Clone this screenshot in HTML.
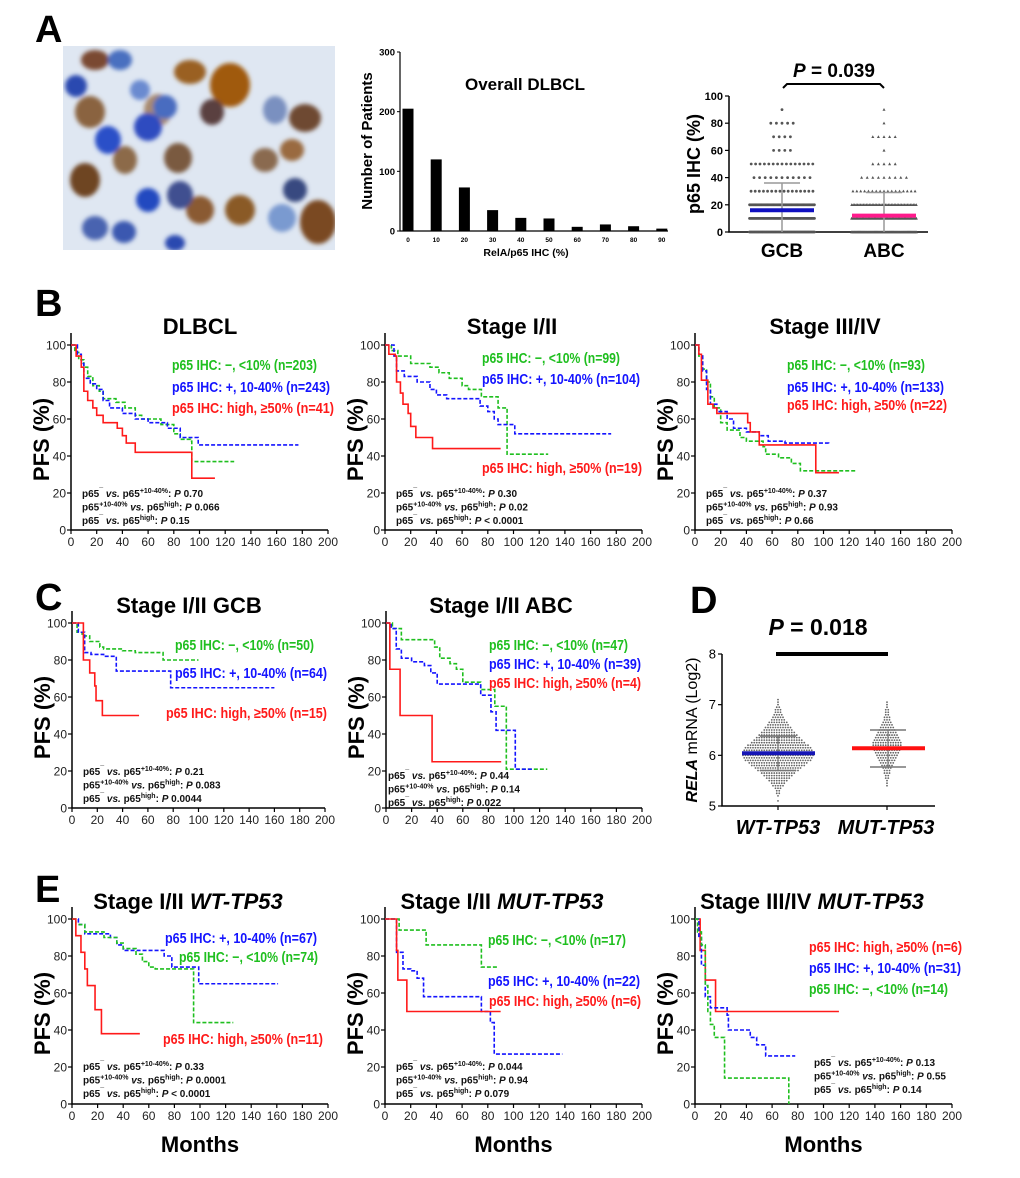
<!DOCTYPE html>
<html><head><meta charset="utf-8">
<style>
html,body{margin:0;padding:0;background:#fff;}
svg{display:block;font-family:"Liberation Sans",Arial,sans-serif;}
</style></head>
<body>
<svg id="fig" width="1020" height="1178" viewBox="0 0 1020 1178" xmlns="http://www.w3.org/2000/svg">
<defs>
<filter id="blur" x="-20%" y="-20%" width="140%" height="140%"><feGaussianBlur stdDeviation="2.2"/></filter>
<clipPath id="photoClip"><rect x="63" y="46" width="272" height="204"/></clipPath>
</defs>
<rect width="1020" height="1178" fill="#fff"/>
<g id="photo" clip-path="url(#photoClip)">
<rect x="63" y="46" width="272" height="204" fill="#dfe7f2"/>
<g filter="url(#blur)">
<ellipse cx="90" cy="112" rx="15" ry="16" fill="#8a6440"/>
<ellipse cx="85" cy="180" rx="15" ry="17" fill="#6e4422"/>
<ellipse cx="125" cy="160" rx="12" ry="14" fill="#8c6a4a"/>
<ellipse cx="158" cy="110" rx="14" ry="16" fill="#a88a70"/>
<ellipse cx="190" cy="72" rx="16" ry="12" fill="#9a6020"/>
<ellipse cx="230" cy="85" rx="20" ry="22" fill="#a05a10"/>
<ellipse cx="212" cy="112" rx="12" ry="13" fill="#5a4040"/>
<ellipse cx="178" cy="158" rx="14" ry="15" fill="#7a5a40"/>
<ellipse cx="200" cy="210" rx="14" ry="14" fill="#8a5a30"/>
<ellipse cx="240" cy="210" rx="15" ry="15" fill="#8a5a28"/>
<ellipse cx="305" cy="118" rx="16" ry="14" fill="#6e4a30"/>
<ellipse cx="318" cy="222" rx="18" ry="22" fill="#7a4a20"/>
<ellipse cx="292" cy="150" rx="12" ry="11" fill="#9a6a40"/>
<ellipse cx="95" cy="60" rx="14" ry="10" fill="#7a4a30"/>
<ellipse cx="265" cy="160" rx="13" ry="12" fill="#8a6a50"/>
<ellipse cx="76" cy="86" rx="11" ry="11" fill="#2c4ab0"/>
<ellipse cx="108" cy="140" rx="13" ry="14" fill="#2a50c8"/>
<ellipse cx="148" cy="127" rx="14" ry="14" fill="#2e4cc0"/>
<ellipse cx="165" cy="107" rx="12" ry="12" fill="#4a6cc0"/>
<ellipse cx="140" cy="90" rx="10" ry="10" fill="#6a8ad0"/>
<ellipse cx="148" cy="200" rx="12" ry="12" fill="#2448c0"/>
<ellipse cx="95" cy="228" rx="13" ry="12" fill="#4a64b0"/>
<ellipse cx="124" cy="232" rx="12" ry="11" fill="#3a58b0"/>
<ellipse cx="180" cy="195" rx="13" ry="14" fill="#3f5090"/>
<ellipse cx="295" cy="190" rx="12" ry="12" fill="#384880"/>
<ellipse cx="120" cy="60" rx="12" ry="10" fill="#4a70c0"/>
<ellipse cx="282" cy="218" rx="14" ry="14" fill="#7a9ad0"/>
<ellipse cx="275" cy="110" rx="12" ry="14" fill="#7a90c0"/>
<ellipse cx="175" cy="243" rx="10" ry="8" fill="#2a48b0"/>
</g></g>
<g id="root"></g>
</svg>
<script>
// ---------------- DATA ----------------
const kmXTicks = [0,20,40,60,80,100,120,140,160,180,200];
const kmYTicks = [0,20,40,60,80,100];

const b1Green = [[0,100],[3,96],[6,92],[10,88],[13,83],[17,78],[22,75],[25,71],[35,69],[42,66],[50,62],[55,60],[70,57],[80,52],[85,49],[93,48],[94,37],[127,37]];
const b1Blue  = [[0,100],[5,95],[8,90],[10,82],[15,79],[20,76],[25,70],[30,66],[40,63],[50,60],[60,58],[75,55],[85,50],[98,50],[99,46],[177,46]];
const b1Red   = [[0,100],[4,94],[8,88],[10,75],[13,70],[17,66],[20,62],[25,58],[35,58],[36,55],[40,51],[43,47],[50,42],[93,42],[94,28],[112,28]];

const b2Green = [[0,100],[5,97],[10,94],[20,90],[35,88],[42,85],[50,82],[60,78],[65,76],[75,72],[87,72],[88,66],[94,66],[95,41],[127,41]];
const b2Blue  = [[0,100],[7,94],[9,86],[15,83],[25,80],[35,76],[40,73],[48,71],[72,71],[74,67],[80,64],[85,60],[88,57],[100,57],[101,52],[176,52]];
const b2Red   = [[0,100],[3,95],[8,94],[9,80],[12,74],[14,68],[18,63],[20,56],[24,50],[36,50],[37,44],[90,44]];

const b3Green = [[0,100],[3,94],[6,87],[9,80],[12,72],[15,66],[20,58],[25,54],[35,50],[40,48],[50,48],[53,45],[55,41],[65,39],[75,36],[82,32],[126,32]];
const b3Blue  = [[0,100],[3,95],[6,86],[9,76],[12,68],[17,64],[25,60],[30,55],[40,53],[50,51],[57,48],[70,47],[104,46]];
const b3Red   = [[0,100],[3,95],[5,81],[10,68],[14,66],[17,63],[40,63],[41,58],[43,53],[50,46],[93,46],[94,31],[112,31]];

const c1Green = [[0,100],[4,95],[8,93],[14,90],[22,87],[25,86],[40,85],[50,84],[60,84],[72,80],[100,80]];
const c1Blue  = [[0,100],[5,95],[10,84],[15,83],[25,82],[35,74],[75,74],[78,65],[160,65]];
const c1Red   = [[0,100],[8,100],[9,80],[14,73],[18,66],[19,58],[24,50],[53,50]];

const c2Green = [[0,100],[5,97],[12,91],[32,91],[38,87],[42,81],[50,78],[55,75],[60,68],[70,68],[74,64],[85,55],[93,55],[94,21],[126,21]];
const c2Blue  = [[0,100],[4,97],[8,86],[12,81],[20,79],[30,77],[35,73],[40,67],[70,67],[74,61],[82,52],[86,42],[100,42],[101,21],[115,21]];
const c2Red   = [[0,100],[2,100],[3,75],[10,75],[11,50],[35,50],[36,25],[90,25]];

const e1Blue  = [[0,100],[5,97],[10,92],[30,90],[35,86],[40,83],[60,83],[72,80],[78,74],[98,74],[99,65],[161,65]];
const e1Green = [[0,100],[3,97],[10,93],[25,90],[35,87],[40,84],[50,81],[55,77],[60,74],[65,73],[94,73],[95,44],[126,44]];
const e1Red   = [[0,100],[2,100],[3,91],[7,82],[10,73],[12,64],[18,51],[23,38],[53,38]];

const e2Green = [[0,100],[10,100],[11,94],[31,94],[32,86],[73,86],[75,74],[88,74]];
const e2Blue  = [[0,100],[8,100],[9,82],[14,73],[20,72],[25,68],[30,58],[74,58],[75,50],[82,44],[85,27],[138,27]];
const e2Red   = [[0,100],[8,100],[9,83],[10,67],[17,50],[90,50]];

const e3Red   = [[0,100],[4,83],[8,67],[16,50],[112,50]];
const e3Blue  = [[0,100],[3,90],[5,75],[8,58],[12,52],[25,48],[26,40],[40,40],[43,36],[48,32],[55,26],[78,26]];
const e3Green = [[0,100],[2,93],[5,86],[8,64],[10,50],[12,43],[15,36],[20,36],[23,14],[72,14],[73,0]];

const histCategories = [0,10,20,30,40,50,60,70,80,90];
const histCounts = [205,120,73,35,22,21,7,11,8,4];
const histYTicks = [0,100,200,300];

const dotRowValues = [0,10,20,30,40,50,60,70,80,90];
const gcbRowCounts = [70,60,55,16,11,15,4,4,5,1];
const abcRowCounts = [70,55,45,17,9,5,1,5,1,1];
const dotYTicks = [0,20,40,60,80,100];
const gcbMean = 16, gcbSdTop = 36, abcMean = 12, abcSdTop = 29;

const relaYTicks = [5,6,7,8];
const wtBinStart = 5.10, mutBinStart = 5.40, relaBinStep = 0.05;
const wtBinCounts = [1,0,1,2,2,3,5,6,8,10,12,14,17,19,22,24,27,28,29,29,28,27,25,22,20,18,16,14,12,11,9,8,6,5,4,3,3,2,1,1,1];
const mutBinCounts = [1,1,1,2,2,3,3,4,5,6,7,8,9,10,11,12,12,12,11,10,9,8,7,6,5,4,3,3,2,2,2,1,1,1];
const wtMean = 6.04, wtSdHi = 6.38, wtSdLo = 5.70;
const mutMean = 6.14, mutSdHi = 6.50, mutSdLo = 5.77;

// ---------------- HELPERS ----------------
const NS = 'http://www.w3.org/2000/svg';
const root = document.getElementById('root');
function mk(tag, attrs, parent){
  const e = document.createElementNS(NS, tag);
  for (const k in attrs) e.setAttribute(k, attrs[k]);
  (parent || root).appendChild(e);
  return e;
}
function txt(x, y, s, size, opts, parent){
  opts = opts || {};
  const t = mk('text', {x:x, y:y, 'font-size':size, 'font-weight':opts.w || 'bold', fill:opts.fill || '#000', 'text-anchor':opts.anchor || 'start'}, parent);
  if (opts.len) { t.setAttribute('textLength', opts.len); t.setAttribute('lengthAdjust', 'spacingAndGlyphs'); }
  if (opts.rot) t.setAttribute('transform', 'rotate(-90 ' + x + ' ' + y + ')');
  if (opts.italic) t.setAttribute('font-style', 'italic');
  t.textContent = s;
  return t;
}

const GREEN = '#1fbf1f', BLUE = '#1414ff', RED = '#ff1a1a';

// ---------------- PANEL LETTERS ----------------
[['A',35,42],['B',35,316],['C',35,610],['D',690,613],['E',35,902]].forEach(function(p){
  const t = txt(p[1], p[2], p[0], 38);
  
  
});

// ---------------- KM CHARTS ----------------
function pLines(g, x, y, vals){
  const labels = [['\u00AF', '+10-40%'], ['+10-40%', 'high'], ['\u00AF', 'high']];
  vals.forEach(function(v, i){
    const t = mk('text', {x:x, y:y + i*13.5, 'font-size':10, 'font-weight':'bold', fill:'#111'}, g);
    
    
    const parts = [['p65',0,null],[labels[i][0],-4,7],[' ',4,null],['vs.',0,'i'],[' p65',0,null],[labels[i][1],-4,7],[': ',4,null],['P',0,'i'],[' ' + v,0,null]];
    parts.forEach(function(p){
      const s = mk('tspan', {dy:p[1]}, t);
      if (p[2] === 7) s.setAttribute('font-size', 7);
      if (p[2] === 'i') s.setAttribute('font-style', 'italic');
      s.textContent = p[0];
    });
  });
}

function km(cfg){
  const g = mk('g', {});
  
  
  const xs = function(v){ return cfg.x0 + (cfg.x1 - cfg.x0) * v / 200; };
  const ys = function(v){ return cfg.yb - (cfg.yb - cfg.yt) * v / 100; };
  const tt = mk('text', {x:cfg.tx, y:cfg.ty, 'font-size':22, 'font-weight':'bold', 'text-anchor':'middle'}, g);
  
  
  const t1 = mk('tspan', {}, tt); t1.textContent = cfg.title;
  if (cfg.titleIt) { const t2 = mk('tspan', {'font-style':'italic'}, tt); t2.textContent = cfg.titleIt; }
  const ax = mk('path', {d:'M' + cfg.x0 + ' ' + (cfg.yt - 12) + 'V' + cfg.yb + 'H' + xs(200), stroke:'#000', 'stroke-width':1.5, fill:'none'}, g);
  
  
  kmXTicks.forEach(function(v){
    const tk = mk('line', {x1:xs(v), x2:xs(v), y1:cfg.yb, y2:cfg.yb + 4, stroke:'#000', 'stroke-width':1.2}, g);
    
    
    const lb = txt(xs(v), cfg.yb + 16, String(v), 12, {w:'normal', anchor:'middle', fill:'#222'}, g);
    
    
  });
  kmYTicks.forEach(function(v){
    const tk = mk('line', {x1:cfg.x0 - 4, x2:cfg.x0, y1:ys(v), y2:ys(v), stroke:'#000', 'stroke-width':1.2}, g);
    
    
    const lb = txt(cfg.x0 - 5, ys(v) + 4.5, String(v), 12, {w:'normal', anchor:'end', fill:'#222'}, g);
    
    
  });
  const yl = txt(cfg.x0 - 22, (cfg.yt + cfg.yb)/2 + 2, 'PFS (%)', 22, {anchor:'middle', rot:true}, g);
  
  
  if (cfg.months) {
    const xl = txt((cfg.x0 + xs(200))/2, 1152, 'Months', 22, {anchor:'middle'}, g);
    
    
  }
  cfg.series.forEach(function(s){
    const pts = s.data;
    let d = 'M' + xs(pts[0][0]) + ' ' + ys(pts[0][1]);
    for (let i = 1; i < pts.length; i++) {
      d += 'H' + xs(pts[i][0]) + 'V' + ys(pts[i][1]);
    }
    const p = mk('path', {d:d, stroke:s.color, 'stroke-width':1.6, fill:'none'}, g);
    if (s.dash) p.setAttribute('stroke-dasharray', '4 2');
    
    
  });
  cfg.legend.forEach(function(l){
    const t = txt(l.x, l.y, l.text, 14.5, {fill:l.color, len:l.len}, g);
    
    
  });
  pLines(g, cfg.px, cfg.py, cfg.pv);
}

const LG = 'p65 IHC: \u2212, <10% ', LB = 'p65 IHC: +, 10-40% ', LR = 'p65 IHC: high, \u226550% ';
function S(g, b, r){ return [{key:'p65-neg', data:g, color:GREEN, dash:true},{key:'p65-pos', data:b, color:BLUE, dash:true},{key:'p65-high', data:r, color:RED}]; }

km({name:'km-dlbcl', x0:71, x1:328, yt:345, yb:530, tx:200, ty:334, title:'DLBCL',
  series:S(b1Green,b1Blue,b1Red),
  legend:[{key:'neg',x:172,y:370,text:LG+'(n=203)',color:GREEN,len:145},{key:'pos',x:172,y:392,text:LB+'(n=243)',color:BLUE,len:158},{key:'high',x:172,y:413,text:LR+'(n=41)',color:RED,len:162}],
  px:82, py:497, pv:['0.70','0.066','0.15']});
km({name:'km-stage-1-2', x0:385, x1:642, yt:345, yb:530, tx:512, ty:334, title:'Stage I/II',
  series:S(b2Green,b2Blue,b2Red),
  legend:[{key:'neg',x:482,y:363,text:LG+'(n=99)',color:GREEN,len:138},{key:'pos',x:482,y:384,text:LB+'(n=104)',color:BLUE,len:158},{key:'high',x:482,y:473,text:LR+'(n=19)',color:RED,len:160}],
  px:396, py:497, pv:['0.30','0.02','< 0.0001']});
km({name:'km-stage-3-4', x0:695, x1:952, yt:345, yb:530, tx:825, ty:334, title:'Stage III/IV',
  series:S(b3Green,b3Blue,b3Red),
  legend:[{key:'neg',x:787,y:370,text:LG+'(n=93)',color:GREEN,len:138},{key:'pos',x:787,y:392,text:LB+'(n=133)',color:BLUE,len:157},{key:'high',x:787,y:410,text:LR+'(n=22)',color:RED,len:160}],
  px:706, py:497, pv:['0.37','0.93','0.66']});
km({name:'km-stage-1-2-gcb', x0:72, x1:325, yt:623, yb:808, tx:189, ty:613, title:'Stage I/II GCB',
  series:S(c1Green,c1Blue,c1Red),
  legend:[{key:'neg',x:175,y:650,text:LG+'(n=50)',color:GREEN,len:139},{key:'pos',x:175,y:678,text:LB+'(n=64)',color:BLUE,len:152},{key:'high',x:166,y:718,text:LR+'(n=15)',color:RED,len:161}],
  px:83, py:775, pv:['0.21','0.083','0.0044']});
km({name:'km-stage-1-2-abc', x0:386, x1:642, yt:623, yb:808, tx:501, ty:613, title:'Stage I/II ABC',
  series:S(c2Green,c2Blue,c2Red),
  legend:[{key:'neg',x:489,y:650,text:LG+'(n=47)',color:GREEN,len:139},{key:'pos',x:489,y:669,text:LB+'(n=39)',color:BLUE,len:152},{key:'high',x:489,y:688,text:LR+'(n=4)',color:RED,len:152}],
  px:388, py:779, pv:['0.44','0.14','0.022']});
km({name:'km-stage-1-2-wt-tp53', x0:72, x1:328, yt:919, yb:1104, tx:188, ty:909, title:'Stage I/II ', titleIt:'WT-TP53', months:true,
  series:[{key:'p65-pos',data:e1Blue,color:BLUE,dash:true},{key:'p65-neg',data:e1Green,color:GREEN,dash:true},{key:'p65-high',data:e1Red,color:RED}],
  legend:[{key:'pos',x:165,y:943,text:LB+'(n=67)',color:BLUE,len:152},{key:'neg',x:179,y:962,text:LG+'(n=74)',color:GREEN,len:139},{key:'high',x:163,y:1044,text:LR+'(n=11)',color:RED,len:160}],
  px:83, py:1070, pv:['0.33','0.0001','< 0.0001']});
km({name:'km-stage-1-2-mut-tp53', x0:385, x1:642, yt:919, yb:1104, tx:502, ty:909, title:'Stage I/II ', titleIt:'MUT-TP53', months:true,
  series:S(e2Green,e2Blue,e2Red),
  legend:[{key:'neg',x:488,y:945,text:LG+'(n=17)',color:GREEN,len:138},{key:'pos',x:488,y:986,text:LB+'(n=22)',color:BLUE,len:152},{key:'high',x:489,y:1006,text:LR+'(n=6)',color:RED,len:152}],
  px:396, py:1070, pv:['0.044','0.94','0.079']});
km({name:'km-stage-3-4-mut-tp53', x0:695, x1:952, yt:919, yb:1104, tx:812, ty:909, title:'Stage III/IV ', titleIt:'MUT-TP53', months:true,
  series:[{key:'p65-high',data:e3Red,color:RED},{key:'p65-pos',data:e3Blue,color:BLUE,dash:true},{key:'p65-neg',data:e3Green,color:GREEN,dash:true}],
  legend:[{key:'high',x:809,y:952,text:LR+'(n=6)',color:RED,len:153},{key:'pos',x:809,y:973,text:LB+'(n=31)',color:BLUE,len:152},{key:'neg',x:809,y:994,text:LG+'(n=14)',color:GREEN,len:139}],
  px:814, py:1066, pv:['0.13','0.55','0.14']});

// ---------------- HISTOGRAM ----------------
(function(){
  const g = mk('g', {});
  
  
  const x0 = 400, xEnd = 668, yb = 231, yt = 52;
  const ys = function(v){ return yb - (yb - yt) * v / 300; };
  const xc = function(i){ return 408 + i * 28.2; };
  const ax = mk('path', {d:'M' + x0 + ' ' + yt + 'V' + yb + 'H' + xEnd, stroke:'#000', 'stroke-width':1.2, fill:'none'}, g);
  
  
  histYTicks.forEach(function(v){
    const tk = mk('line', {x1:x0 - 3, x2:x0, y1:ys(v), y2:ys(v), stroke:'#000'}, g);
    
    
    const lb = txt(x0 - 5, ys(v) + 3.5, String(v), 9.5, {anchor:'end'}, g);
    
    
  });
  histCategories.forEach(function(c, i){
    const b = mk('rect', {x:xc(i) - 5.5, y:ys(histCounts[i]), width:11, height:yb - ys(histCounts[i]), fill:'#000'}, g);
    
    
    const lb = txt(xc(i), yb + 11, String(c), 6.5, {anchor:'middle'}, g);
    
    
  });
  const t = txt(525, 90, 'Overall DLBCL', 17, {anchor:'middle'}, g);
  
  
  const yl = txt(372, 141, 'Number of Patients', 15, {anchor:'middle', rot:true}, g);
  
  
  const xl = txt(526, 256, 'RelA/p65 IHC (%)', 10.5, {anchor:'middle'}, g);
  
  
})();

// ---------------- DOT PLOT (GCB vs ABC) ----------------
(function(){
  const g = mk('g', {});
  
  
  const x0 = 729, xEnd = 928, yb = 232, yt = 96;
  const ys = function(v){ return yb - (yb - yt) * v / 100; };
  const ax = mk('path', {d:'M' + x0 + ' ' + yt + 'V' + yb + 'H' + xEnd, stroke:'#000', 'stroke-width':1.5, fill:'none'}, g);
  
  
  dotYTicks.forEach(function(v){
    const tk = mk('line', {x1:x0 - 4, x2:x0, y1:ys(v), y2:ys(v), stroke:'#000', 'stroke-width':1.2}, g);
    
    
    const lb = txt(x0 - 6, ys(v) + 4, String(v), 11, {anchor:'end'}, g);
    
    
  });
  function group(cx, counts, tri, mean, sdTop, meanColor, key){
    const maxW = 66;
    counts.forEach(function(n, i){
      const v = dotRowValues[i];
      const sp = Math.min(5.6, maxW / n);
      for (let k = 0; k < n; k++) {
        const x = cx + (k - (n - 1)/2) * sp, y = ys(v);
        let d;
        if (tri) { d = mk('path', {d:'M' + x + ' ' + (y - 1.6) + 'L' + (x + 1.5) + ' ' + (y + 1.2) + 'L' + (x - 1.5) + ' ' + (y + 1.2) + 'Z', fill:'#555'}, g); }
        else { d = mk('circle', {cx:x, cy:y, r:1.4, fill:'#555'}, g); }
        
        
      }
    });
    const w = mk('line', {x1:cx, x2:cx, y1:ys(0), y2:ys(sdTop), stroke:'#999', 'stroke-width':1.5}, g);
    
    
    const cap = mk('line', {x1:cx - 18, x2:cx + 18, y1:ys(sdTop), y2:ys(sdTop), stroke:'#999', 'stroke-width':1.5}, g);
    
    
    const m = mk('line', {x1:cx - 32, x2:cx + 32, y1:ys(mean), y2:ys(mean), stroke:meanColor, 'stroke-width':4}, g);
    
    
  }
  group(782, gcbRowCounts, false, gcbMean, gcbSdTop, '#1010c0', 'gcb');
  group(884, abcRowCounts, true, abcMean, abcSdTop, '#ff1a8c', 'abc');
  const l1 = txt(782, 257, 'GCB', 19, {anchor:'middle'}, g);
  
  
  const l2 = txt(884, 257, 'ABC', 19, {anchor:'middle'}, g);
  
  
  const yl = txt(700, 164, 'p65 IHC (%)', 18, {anchor:'middle', rot:true}, g);
  
  
  const br = mk('path', {d:'M783 88 L787 84 H880 L884 88', stroke:'#000', 'stroke-width':2, fill:'none'}, g);
  
  
  const pt = mk('text', {x:834, y:77, 'font-size':19, 'font-weight':'bold', 'text-anchor':'middle'}, g);
  
  
  const a = mk('tspan', {'font-style':'italic'}, pt); a.textContent = 'P';
  const b = mk('tspan', {}, pt); b.textContent = ' = 0.039';
})();

// ---------------- PANEL D BEESWARM ----------------
(function(){
  const g = mk('g', {});
  
  
  const x0 = 722, xEnd = 935, yb = 806, yt = 654;
  const ys = function(v){ return yb - (yb - yt) * (v - 5) / 3; };
  const ax = mk('path', {d:'M' + x0 + ' ' + yt + 'V' + yb + 'H' + xEnd, stroke:'#000', 'stroke-width':1.5, fill:'none'}, g);
  
  
  relaYTicks.forEach(function(v){
    const tk = mk('line', {x1:x0 - 4, x2:x0, y1:ys(v), y2:ys(v), stroke:'#000', 'stroke-width':1.2}, g);
    
    
    const lb = txt(x0 - 6, ys(v) + 4.5, String(v), 13, {w:'normal', anchor:'end'}, g);
    
    
  });
  [778, 887].forEach(function(x){
    const tk = mk('line', {x1:x, x2:x, y1:yb, y2:yb + 4, stroke:'#000', 'stroke-width':1.2}, g);
    
    
  });
  function swarm(cx, start, counts, key){
    counts.forEach(function(n, i){
      const v = start + i * relaBinStep;
      for (let k = 0; k < n; k++) {
        const d = mk('circle', {cx:cx + (k - (n - 1)/2) * 2.5, cy:ys(v), r:0.9, fill:'#666'}, g);
        
        
      }
    });
  }
  swarm(778, wtBinStart, wtBinCounts, 'wt-tp53');
  swarm(887, mutBinStart, mutBinCounts, 'mut-tp53');
  function stats(cx, mean, hi, lo, color, key){
    [hi, lo].forEach(function(v){
      const l = mk('line', {x1:cx - 18, x2:cx + 18, y1:ys(v), y2:ys(v), stroke:'#777', 'stroke-width':1.5}, g);
      
      
    });
    const w = mk('line', {x1:cx, x2:cx, y1:ys(lo), y2:ys(hi), stroke:'#777', 'stroke-width':1.2}, g);
    
    
    const m = mk('line', {x1:cx - 36, x2:cx + 37, y1:ys(mean), y2:ys(mean), stroke:color, 'stroke-width':4}, g);
    
    
  }
  stats(778, wtMean, wtSdHi, wtSdLo, '#1515b5', 'wt-tp53');
  stats(888, mutMean, mutSdHi, mutSdLo, '#ff1010', 'mut-tp53');
  const bar = mk('line', {x1:776, x2:888, y1:654, y2:654, stroke:'#000', 'stroke-width':4}, g);
  
  
  const pt = mk('text', {x:818, y:635, 'font-size':23, 'font-weight':'bold', 'text-anchor':'middle'}, g);
  
  
  const a = mk('tspan', {'font-style':'italic'}, pt); a.textContent = 'P';
  const b = mk('tspan', {}, pt); b.textContent = ' = 0.018';
  const l1 = txt(778, 834, 'WT-TP53', 20, {anchor:'middle', italic:true}, g);
  
  
  const l2 = txt(886, 834, 'MUT-TP53', 20, {anchor:'middle', italic:true}, g);
  
  
  const yl = mk('text', {x:697, y:730, 'font-size':16, 'font-weight':'normal', 'text-anchor':'middle', transform:'rotate(-90 697 730)'}, g);
  
  
  const r1 = mk('tspan', {'font-style':'italic', 'font-weight':'bold'}, yl); r1.textContent = 'RELA';
  const r2 = mk('tspan', {}, yl); r2.textContent = ' mRNA (Log2)';
})();
</script>
</body></html>
